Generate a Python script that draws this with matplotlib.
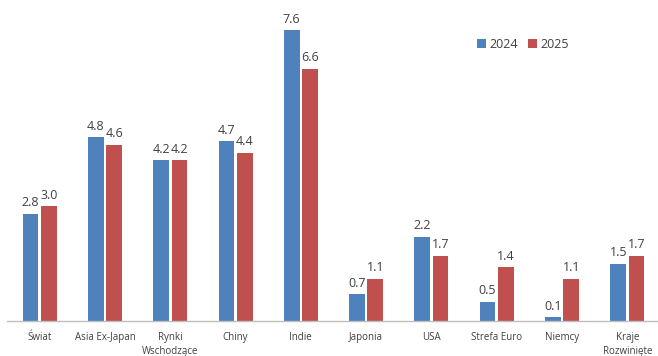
import matplotlib
matplotlib.use("Agg")
import matplotlib.pyplot as plt
import numpy as np

categories = ["Świat", "Asia Ex-Japan", "Rynki\nWschodzące", "Chiny", "Indie",
              "Japonia", "USA", "Strefa Euro", "Niemcy", "Kraje\nRozwinięte"]
v2024 = [2.8, 4.8, 4.2, 4.7, 7.6, 0.7, 2.2, 0.5, 0.1, 1.5]
v2025 = [3.0, 4.6, 4.2, 4.4, 6.6, 1.1, 1.7, 1.4, 1.1, 1.7]

plt.rcParams['font.family'] = ['Open Sans', 'DejaVu Sans']

fig = plt.figure(figsize=(6.58, 3.56), dpi=100)
ax = fig.add_axes([7/658, 35/356, 653/658, 306/356])

x = np.arange(len(categories))
w = 0.24
off = 0.14
b1 = ax.bar(x - off, v2024, w, color="#4F81BD", label="2024")
b2 = ax.bar(x + off, v2025, w, color="#C0504D", label="2025")

for bars, vals in ((b1, v2024), (b2, v2025)):
    for b, v in zip(bars, vals):
        ax.text(b.get_x() + b.get_width()/2, v + 0.12, f"{v:.1f}",
                ha="center", va="bottom", fontsize=9, color="#404040")

ax.set_xlim(-0.5, len(categories) - 0.5)
ax.set_ylim(0, 8)
ax.set_yticks([])
ax.set_xticks(x)
ax.set_xticklabels(categories, fontsize=7, color="#404040", linespacing=1.3)
ax.tick_params(axis="x", length=0, pad=8)
for s in ("top", "right", "left"):
    ax.spines[s].set_visible(False)
ax.spines["bottom"].set_color("#BFBFBF")
ax.spines["bottom"].set_linewidth(1)

ax.legend(loc="center", bbox_to_anchor=(0.79, 0.905), ncol=2, frameon=False,
          fontsize=9, handlelength=0.7, handleheight=0.7, columnspacing=0.8,
          handletextpad=0.3, labelcolor="#404040")

fig.savefig("out.png", dpi=100)
